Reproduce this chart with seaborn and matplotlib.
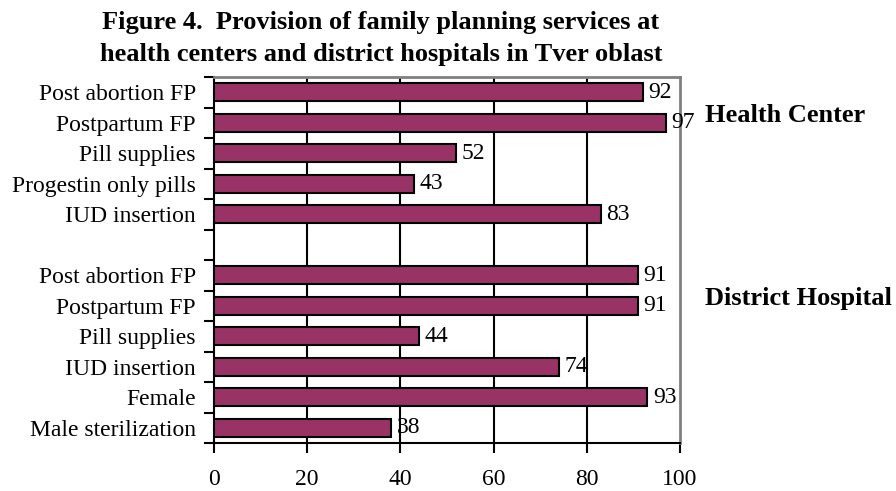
import matplotlib
matplotlib.use("Agg")
import matplotlib.pyplot as plt
import seaborn as sns
import pandas as pd
import numpy as np

# -----------------------------
# Data
# -----------------------------
hc_services = ["Post abortion FP", "Postpartum FP", "Pill supplies",
               "Progestin only pills", "IUD insertion"]
hc_values = [92, 97, 52, 43, 83]

dh_services = ["Post abortion FP", "Postpartum FP", "Pill supplies",
               "IUD insertion", "Female", "Male sterilization"]
dh_values = [91, 91, 44, 74, 93, 38]

x_ticks = [0, 20, 40, 60, 80, 100]
title_lines = ["Figure 4.  Provision of family planning services at",
               "health centers and district hospitals in Tver oblast"]

BAR_COLOR = "#993366"

# one row per slot, with a blank slot between the two groups
labels = hc_services + [""] + dh_services
values = hc_values + [np.nan] + dh_values
keys = [f"slot{i}" for i in range(len(labels))]
df = pd.DataFrame({"key": keys, "label": labels, "value": values})

sns.set_style("white")
plt.rcParams["font.family"] = ["Liberation Serif", "DejaVu Serif"]
plt.rcParams["text.color"] = "black"
plt.rcParams["xtick.labelcolor"] = "black"
plt.rcParams["ytick.labelcolor"] = "black"

fig = plt.figure(figsize=(8.96, 4.91), dpi=100)
ax = fig.add_axes([214 / 896, 1 - 443 / 491, 466 / 896, 366 / 491])

sns.barplot(data=df, x="value", y="key", orient="h", color=BAR_COLOR,
            saturation=1, width=0.6, edgecolor="black", linewidth=1.5,
            ax=ax, zorder=3)

n = len(labels)
ax.set_xlim(0, 100)
ax.set_ylim(n - 0.5, -0.5)

# vertical gridlines
for gx in x_ticks[1:-1]:
    ax.axvline(gx, color="black", lw=1.5, zorder=1)

# value labels
for i, v in enumerate(values):
    if not np.isnan(v):
        ax.text(v + 1.2, i, f"{v:.0f}", ha="left", va="center",
                fontsize=17, color="black", zorder=4)

# y ticks: marks at slot boundaries, labels at slot centres
ax.set_yticks(np.arange(n + 1) - 0.5)
ax.set_yticklabels([])
ax.set_yticks(np.arange(n), minor=True)
ax.set_yticklabels(labels, minor=True, fontsize=17, color="black")
ax.tick_params(axis="y", which="major", direction="out", length=7,
               width=1.5, color="black", left=True)
ax.tick_params(axis="y", which="minor", length=0, pad=13)

ax.set_xticks(x_ticks)
ax.set_xticklabels([str(t) for t in x_ticks], fontsize=17, color="black")
ax.tick_params(axis="x", direction="out", length=7, width=1.5,
               color="black", bottom=True, pad=12)

ax.set_xlabel("")
ax.set_ylabel("")

for side in ["left", "bottom"]:
    ax.spines[side].set_color("black")
    ax.spines[side].set_linewidth(1.5)
for side in ["top", "right"]:
    ax.spines[side].set_color("#808080")
    ax.spines[side].set_linewidth(2)
    ax.spines[side].set_visible(True)

# group labels
fig.text(705 / 896, 1 - 115 / 491, "Health Center", fontsize=19,
         fontweight="bold", ha="left", va="center", color="black")
fig.text(705 / 896, 1 - 298 / 491, "District Hospital", fontsize=19,
         fontweight="bold", ha="left", va="center", color="black")

# title, two centred lines
fig.text(381 / 896, 1 - 22 / 491, title_lines[0], fontsize=19,
         fontweight="bold", ha="center", va="center", color="black")
fig.text(381 / 896, 1 - 54 / 491, title_lines[1], fontsize=19,
         fontweight="bold", ha="center", va="center", color="black")

fig.savefig("out.png", dpi=100)
